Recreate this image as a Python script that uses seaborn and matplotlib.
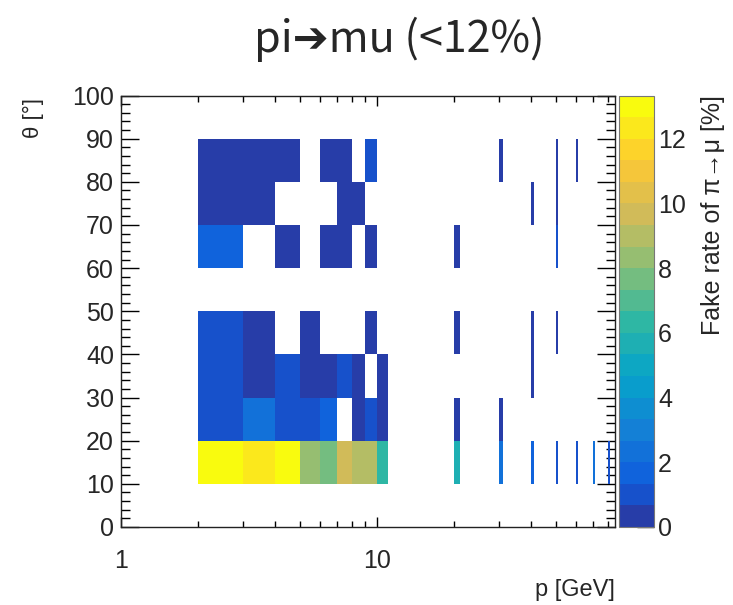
import numpy as np
import pandas as pd
import matplotlib
matplotlib.use("Agg")
import matplotlib.pyplot as plt
import seaborn as sns
from matplotlib.colors import LinearSegmentedColormap, ListedColormap
from matplotlib.ticker import FixedLocator, NullFormatter, FuncFormatter, MultipleLocator

# lower edges of the filled p bins (each 1 GeV wide) and theta bins (10 deg)
p_low = [2, 3, 4, 5, 6, 7, 8, 9, 10, 20, 30, 40, 50, 60, 70, 80]
theta_low = [10, 20, 30, 40, 50, 60, 70, 80]
nan = np.nan

# fake rate pi->mu [%], one list per theta bin, columns follow p_low
rate_10 = [13.3, 12.3, 13.2, 8.3, 7.6, 9.7, 9.0, 9.0, 6.2, 5.6, 2.6, 1.7, 1.0, 1.0, 2.4, 0.8]
rate_20 = [1.0, 2.3, 1.0, 1.0, 1.7, nan, 0.3, 1.0, 0.3, 0.3, 0.3, nan, nan, nan, nan, nan]
rate_30 = [1.0, 0.3, 1.0, 0.3, 0.3, 1.0, 0.3, nan, 0.3, nan, nan, 0.3, nan, nan, nan, nan]
rate_40 = [1.0, 0.3, nan, 0.3, nan, nan, nan, 0.3, nan, 0.3, nan, 0.3, 0.3, nan, nan, nan]
rate_50 = [nan] * 16
rate_60 = [1.7, nan, 0.3, nan, 0.3, 0.3, nan, 0.3, nan, 0.3, nan, nan, 1.0, nan, nan, nan]
rate_70 = [0.3, 0.3, nan, nan, nan, 0.3, 0.3, nan, nan, nan, nan, 0.3, 0.3, nan, nan, nan]
rate_80 = [0.3, 0.3, 0.3, nan, 0.3, 0.3, nan, 1.0, nan, nan, 0.3, nan, 0.3, 0.3, nan, nan]
rates = [rate_10, rate_20, rate_30, rate_40, rate_50, rate_60, rate_70, rate_80]

z_max = 13.33
cbar_ticks = [0, 2, 4, 6, 8, 10, 12]

rows = []
for t, r in zip(theta_low, rates):
    for p, v in zip(p_low, r):
        if not np.isnan(v):
            rows.append({"p": p + 0.5, "theta": t + 5, "rate": v})
df = pd.DataFrame(rows)

p_edges = np.array(sorted(set(p_low) | set(p + 1 for p in p_low)), dtype=float)
theta_edges = np.arange(10, 100, 10, dtype=float)

# ROOT kBird palette, 20 contour levels
stops = [0, 0.125, 0.25, 0.375, 0.5, 0.625, 0.75, 0.875, 1]
red = [0.2082, 0.0592, 0.0780, 0.0232, 0.1802, 0.5301, 0.8186, 0.9956, 0.9764]
green = [0.1664, 0.3599, 0.5041, 0.6419, 0.7178, 0.7492, 0.7328, 0.7862, 0.9832]
blue = [0.5293, 0.8684, 0.8385, 0.7914, 0.6425, 0.4662, 0.3499, 0.1968, 0.0539]
bird = LinearSegmentedColormap.from_list("bird", list(zip(stops, zip(red, green, blue))), N=255)
ncont = 20
cmap = ListedColormap([bird(int((i + 0.99) * 255 / ncont)) for i in range(ncont)])

sns.set_style("ticks")
plt.rcParams["font.family"] = ["Liberation Sans", "DejaVu Sans"]

fig = plt.figure(figsize=(7.33, 6.05), dpi=100)
ax = fig.add_axes([0.165, 0.129, 0.674, 0.713])
cax = fig.add_axes([0.8445, 0.129, 0.0477, 0.713])

sns.histplot(data=df, x="p", y="theta", weights="rate", bins=(p_edges, theta_edges),
             cmap=cmap, vmax=z_max, cbar=True, cbar_ax=cax, ax=ax)

ax.set_xscale("log")
ax.set_xlim(1, 85)
ax.set_ylim(0, 100)
ax.set_xlabel("")
ax.set_ylabel("")

ax.xaxis.set_major_locator(FixedLocator([1, 10]))
ax.xaxis.set_major_formatter(FuncFormatter(lambda v, pos: "%d" % v))
ax.xaxis.set_minor_locator(FixedLocator([2, 3, 4, 5, 6, 7, 8, 9, 20, 30, 40, 50, 60, 70, 80]))
ax.xaxis.set_minor_formatter(NullFormatter())
ax.yaxis.set_major_locator(MultipleLocator(10))
ax.yaxis.set_minor_locator(MultipleLocator(2))

ax.tick_params(axis="both", which="both", direction="in", top=True, right=True,
               color="black", width=1, labelsize=18)
ax.tick_params(axis="x", which="major", length=7, pad=16)
ax.tick_params(axis="x", which="minor", length=4)
ax.tick_params(axis="y", which="major", length=13, pad=5)
ax.tick_params(axis="y", which="minor", length=6.5)
for s in ax.spines.values():
    s.set_visible(True)
    s.set_linewidth(1)
    s.set_color("#222222")

cax.set_ylim(0, z_max)
cax.yaxis.set_ticks(cbar_ticks)
cax.yaxis.set_minor_locator(FixedLocator([]))
cax.tick_params(axis="y", which="major", direction="in", length=12, width=1,
                labelsize=18, pad=3, color="black", right=True, left=False)
for s in cax.spines.values():
    s.set_linewidth(0.8)
    s.set_color("#777777")

fig.text(0.545, 0.935, "pi\u2794mu (<12%)", ha="center", va="center", fontsize=31,
         family=["Noto Sans CJK SC", "DejaVu Sans"])
fig.text(0.045, 0.838, "\u03b8 [\u00b0]", ha="center", va="top", rotation=90, fontsize=16)
fig.text(0.839, 0.024, "p [GeV]", ha="right", va="center", fontsize=17)
fig.text(0.973, 0.843, "Fake rate of \u03c0\u2192\u03bc [%]", ha="center", va="top",
         rotation=90, fontsize=18)

fig.savefig("out.png", dpi=100)
